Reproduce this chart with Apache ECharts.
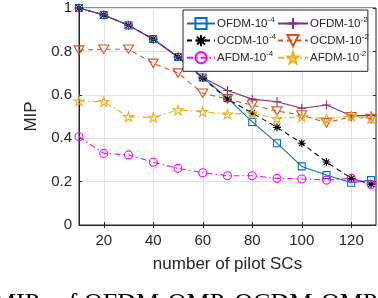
<!DOCTYPE html>
<html><head><meta charset="utf-8">
<script src="https://cdn.jsdelivr.net/npm/echarts@6/dist/echarts.min.js"></script>
<style>html,body{margin:0;padding:0;background:#fff}#c{width:378px;height:298px}</style>
</head><body><div id="c"></div>
<script>
var pilotSCs = [10, 20, 30, 40, 50, 60, 70, 80, 90, 100, 110, 120, 128];
var xTicks = [20, 40, 60, 80, 100, 120];
var ofdm4 = [1.0, 0.968, 0.92, 0.857, 0.774, 0.68, 0.585, 0.475, 0.377, 0.27, 0.23, 0.195, 0.207];
var ocdm4 = [1.0, 0.968, 0.92, 0.857, 0.774, 0.677, 0.58, 0.516, 0.45, 0.377, 0.29, 0.215, 0.188];
var afdm4 = [0.407, 0.33, 0.323, 0.289, 0.261, 0.241, 0.227, 0.227, 0.215, 0.212, 0.207, 0.215, 0.187];
var ofdm2 = [1.0, 0.968, 0.92, 0.855, 0.775, 0.68, 0.62, 0.58, 0.568, 0.538, 0.553, 0.504, 0.504];
var ocdm2 = [0.806, 0.81, 0.81, 0.745, 0.70, 0.607, 0.58, 0.553, 0.525, 0.507, 0.471, 0.499, 0.49];
var afdm2 = [0.571, 0.568, 0.499, 0.496, 0.53, 0.522, 0.511, 0.515, 0.49, 0.499, 0.49, 0.502, 0.49];
var names = ['OFDM-10^-4', 'OCDM-10^-4', 'AFDM-10^-4', 'OFDM-10^-2', 'OCDM-10^-2', 'AFDM-10^-2'];
var caption = 'MIPs of OFDM-OMP, OCDM-OMP and AFDM-OMP';

function pairs(v) { return pilotSCs.map(function (x, i) { return [x, v[i]]; }); }
var SYM = {
  square: 'path://M-10,-10L10,-10L10,10L-10,10Z',
  asterisk: 'path://M0,-10L0,10M-10,0L10,0M-7,-7L7,7M-7,7L7,-7',
  circle: 'circle',
  plus: 'path://M0,-10L0,10M-10,0L10,0',
  tri: 'path://M-10,-7L10,-7L0,10Z',
  star: 'path://M0,-10L2.25,-3.09L9.51,-3.09L3.63,1.18L5.88,8.09L0,3.82L-5.88,8.09L-3.63,1.18L-9.51,-3.09L-2.25,-3.09Z'
};
var dashDot = [6, 3, 1.5, 3];
function mk(name, data, color, sym, size, dash) {
  return {
    name: name, type: 'line', data: pairs(data), xAxisIndex: 0, yAxisIndex: 0,
    symbol: SYM[sym], symbolSize: size, symbolKeepAspect: true, showAllSymbol: true,
    lineStyle: { color: color, width: 1.1, type: dash },
    itemStyle: { color: 'rgba(0,0,0,0)', borderColor: color, borderWidth: 1.1 },
    emphasis: { disabled: true }, animation: false
  };
}
var series = [
  mk(names[0], ofdm4, '#0072BD', 'square', 7, 'solid'),
  mk(names[1], ocdm4, '#000000', 'asterisk', 8, [5, 4]),
  mk(names[2], afdm4, '#FF00FF', 'circle', 8, dashDot),
  mk(names[3], ofdm2, '#7E2F8E', 'plus', 9, 'solid'),
  mk(names[4], ocdm2, '#D95319', 'tri', 10, [5, 4]),
  mk(names[5], afdm2, '#EDB120', 'star', 10, dashDot)
];
function fmt(n) { var p = n.split('^'); return '{b|' + p[0] + '}{s|' + p[1] + '}'; }
var rich = { b: { fontSize: 11.5, fontFamily: 'Liberation Sans', color: '#262626' },
             s: { fontSize: 8, fontFamily: 'Liberation Sans', color: '#262626', padding: [0, 0, 7, 0] } };
var TC = '#262626';
var chart = echarts.init(document.getElementById('c'), null, { renderer: 'canvas' });
chart.setOption({
  animation: false,
  grid: { left: 79, top: 8, right: 2, bottom: 73, show: true, borderColor: TC, borderWidth: 1, backgroundColor: 'transparent' },
  xAxis: [{
    type: 'value', min: 10, max: 130,
    name: 'number of pilot SCs', nameLocation: 'middle', nameGap: 31,
    nameTextStyle: { fontSize: 17, fontFamily: 'Liberation Sans', color: TC },
    axisLine: { lineStyle: { color: TC } },
    axisTick: { inside: true, length: 3, customValues: xTicks, lineStyle: { color: TC } },
    axisLabel: { customValues: xTicks, fontSize: 15, fontFamily: 'Liberation Sans', color: TC, margin: 8 },
    splitLine: { show: true, lineStyle: { color: '#e3e3e3', width: 1 } }
  }, {
    type: 'value', min: 10, max: 130, position: 'top',
    axisLine: { show: false },
    axisTick: { inside: true, length: 3, customValues: xTicks, lineStyle: { color: TC } },
    axisLabel: { show: false }, splitLine: { show: false }
  }],
  yAxis: [{
    type: 'value', min: 0, max: 1, interval: 0.2,
    name: 'MIP', nameLocation: 'middle', nameGap: 30,
    nameTextStyle: { fontSize: 17, fontFamily: 'Liberation Sans', color: TC },
    axisLine: { show: true, lineStyle: { color: TC } },
    axisTick: { show: true, inside: true, length: 3, lineStyle: { color: TC } },
    axisLabel: { fontSize: 15, fontFamily: 'Liberation Sans', color: TC, margin: 7,
      formatter: function (v) { return String(Math.round(v * 10) / 10); } },
    splitLine: { show: true, lineStyle: { color: '#e3e3e3', width: 1 } }
  }, {
    type: 'value', min: 0, max: 1, interval: 0.2, position: 'right',
    axisLine: { show: false },
    axisTick: { show: true, inside: true, length: 3, lineStyle: { color: TC } },
    axisLabel: { show: false }, splitLine: { show: false }
  }],
  legend: [{
    data: [names[0], names[1], names[2]], orient: 'vertical', left: 183, top: 10,
    padding: [6, 92, 7, 3], itemWidth: 28, itemHeight: 14, itemGap: 3,
    backgroundColor: '#fff', borderColor: TC, borderWidth: 1, z: 5,
    formatter: fmt, textStyle: { rich: rich, padding: [0, 0, 0, -3] }, selectedMode: false
  }, {
    data: [names[3], names[4], names[5]], orient: 'vertical', left: 277, top: 16,
    padding: 0, itemWidth: 30, itemHeight: 14, itemGap: 3, z: 6,
    formatter: fmt, textStyle: { rich: rich, padding: [0, 0, 0, -3] }, selectedMode: false
  }],
  graphic: [{
    type: 'text', left: -7, top: 291, silent: true,
    style: { text: caption, font: '26px "Liberation Serif"', fill: '#000' }
  }],
  series: series
});
</script></body></html>
